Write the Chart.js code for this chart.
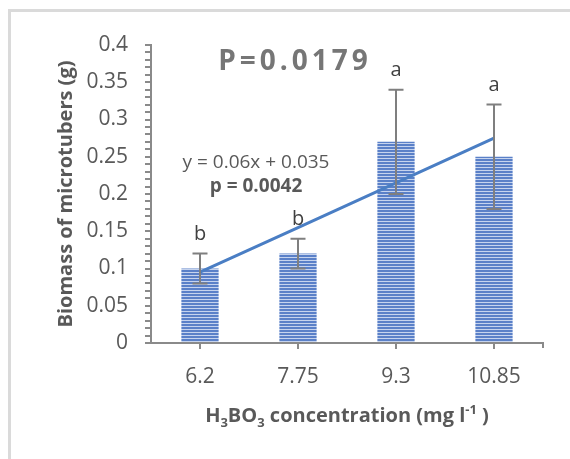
<!DOCTYPE html>
<html>
<head>
<meta charset="utf-8">
<script src="https://cdn.jsdelivr.net/npm/chart.js@4/dist/chart.umd.min.js"></script>
<style>
  html, body { margin: 0; padding: 0; background: #fff; overflow: hidden; }
  .frame { position: absolute; left: 8px; top: 9px; width: 620px; height: 520px;
           border-left: 3px solid #dadada; border-top: 3px solid #dadada; }
  .wrap { position: absolute; left: 0; top: 0; width: 570px; height: 459px; }
</style>
</head>
<body>
<div class="frame"></div>
<div class="wrap"><canvas id="chart" width="570" height="459"></canvas></div>
<script>
// Datos
const categories = ['6.2', '7.75', '9.3', '10.85'];
const biomass = [0.10, 0.12, 0.27, 0.25];
const errors = [0.02, 0.02, 0.07, 0.07];
const trend = [0.095, 0.155, 0.215, 0.275];
const letters = ['b', 'b', 'a', 'a'];

const FONT = "'Open Sans', 'Liberation Sans', sans-serif";
const GREY = '#8a8a8a';
const TEXT = '#595959';

// Relleno de barras con rayas horizontales
function stripePattern() {
    const c = document.createElement('canvas');
    c.width = 4;
    c.height = 3;
    const g = c.getContext('2d');
    g.fillStyle = '#5a80c8';
    g.fillRect(0, 0, 4, 2);
    g.fillStyle = '#c5d3ee';
    g.fillRect(0, 2, 4, 1);
    return g.createPattern(c, 'repeat');
}

// Barras de error y letras
const errorBars = {
    id: 'errorBars',
    afterDatasetsDraw(chart) {
        const { ctx, scales: { x, y } } = chart;
        ctx.save();
        ctx.strokeStyle = '#7f7f7f';
        ctx.lineWidth = 2;
        biomass.forEach((v, i) => {
            const px = x.getPixelForValue(i);
            const top = y.getPixelForValue(v + errors[i]);
            const bot = y.getPixelForValue(v - errors[i]);
            ctx.beginPath();
            ctx.moveTo(px, top); ctx.lineTo(px, bot);
            ctx.moveTo(px - 7.5, top); ctx.lineTo(px + 7.5, top);
            ctx.moveTo(px - 7.5, bot); ctx.lineTo(px + 7.5, bot);
            ctx.stroke();
            ctx.fillStyle = '#404040';
            ctx.font = `20px ${FONT}`;
            ctx.textAlign = 'center';
            ctx.textBaseline = 'alphabetic';
            ctx.fillText(letters[i], px, top - 14);
        });
        ctx.restore();
    }
};

// Textos: P, ecuación, títulos de ejes
const annotations = {
    id: 'annotations',
    afterDraw(chart) {
        const { ctx, chartArea, scales: { x, y } } = chart;
        ctx.save();

        // P=0.0179 con espaciado
        ctx.font = `bold 28px ${FONT}`;
        ctx.fillStyle = '#767676';
        ctx.textBaseline = 'middle';
        ctx.textAlign = 'left';
        const pText = 'P=0.0179';
        const gap = 4;
        let w = 0;
        for (const ch of pText) w += ctx.measureText(ch).width + gap;
        w -= gap;
        let cx = x.getPixelForValue(1) - 5 - w / 2;
        const py = y.getPixelForValue(0.377);
        for (const ch of pText) {
            ctx.fillText(ch, cx, py);
            cx += ctx.measureText(ch).width + gap;
        }

        // Ecuación de la tendencia
        const ex = (x.getPixelForValue(0) + x.getPixelForValue(1)) / 2 + 7;
        ctx.textAlign = 'center';
        ctx.fillStyle = TEXT;
        ctx.font = `19px ${FONT}`;
        ctx.fillText('y = 0.06x + 0.035', ex, y.getPixelForValue(0.242));
        ctx.font = `bold 19px ${FONT}`;
        ctx.fillText('p = 0.0042', ex, y.getPixelForValue(0.210));

        // Título eje Y
        ctx.save();
        ctx.translate(chartArea.left - 85, (chartArea.top + chartArea.bottom) / 2);
        ctx.rotate(-Math.PI / 2);
        ctx.font = `bold 20px ${FONT}`;
        ctx.fillText('Biomass of microtubers (g)', 0, 0);
        ctx.restore();

        // Título eje X con subíndices
        const parts = [
            ['H', 0], ['3', 1], ['BO', 0], ['3', 1],
            [' concentration (mg l', 0], ['-1', -1], [' )', 0]
        ];
        const fontFor = k => k === 0 ? `bold 20px ${FONT}` : `bold 13px ${FONT}`;
        let total = 0;
        parts.forEach(([t, k]) => { ctx.font = fontFor(k); total += ctx.measureText(t).width; });
        let tx = (chartArea.left + chartArea.right) / 2 - total / 2;
        const base = chartArea.bottom + 79;
        ctx.textAlign = 'left';
        ctx.textBaseline = 'alphabetic';
        parts.forEach(([t, k]) => {
            ctx.font = fontFor(k);
            ctx.fillText(t, tx, base + (k === 1 ? 5 : k === -1 ? -8 : 0));
            tx += ctx.measureText(t).width;
        });

        // Marca al final del eje X
        ctx.strokeStyle = GREY;
        ctx.lineWidth = 2;
        ctx.beginPath();
        ctx.moveTo(chartArea.right, chartArea.bottom);
        ctx.lineTo(chartArea.right, chartArea.bottom + 5);
        ctx.stroke();
        ctx.restore();
    }
};

new Chart(document.getElementById('chart'), {
    data: {
        labels: categories,
        datasets: [
            {
                type: 'line',
                data: trend,
                borderColor: '#4a7ec4',
                borderWidth: 3,
                pointRadius: 0,
                order: 1
            },
            {
                type: 'bar',
                data: biomass,
                backgroundColor: stripePattern(),
                borderWidth: 0,
                barPercentage: 0.38,
                categoryPercentage: 1,
                order: 2
            }
        ]
    },
    options: {
        responsive: false,
        animation: false,
        layout: { padding: { left: 0, top: 45, right: 27, bottom: 0 } },
        plugins: { legend: { display: false }, tooltip: { enabled: false } },
        scales: {
            x: {
                afterFit: s => { s.height = 116; },
                grid: { offset: false, drawOnChartArea: false, tickLength: 6, color: GREY, lineWidth: 2 },
                border: { color: GREY, width: 2 },
                ticks: { color: TEXT, font: { family: FONT, size: 21 }, padding: 15 }
            },
            y: {
                min: 0,
                max: 0.4,
                afterFit: s => { s.width = 151; },
                afterBuildTicks: s => {
                    // una marca cada 0.01, etiqueta cada 0.05
                    s.ticks = Array.from({ length: 41 }, (_, i) => ({ value: i / 100 }));
                },
                grid: { drawOnChartArea: false, tickLength: 6, color: GREY, lineWidth: 2 },
                border: { color: GREY, width: 2 },
                ticks: {
                    autoSkip: false,
                    padding: 17,
                    color: TEXT,
                    font: { family: FONT, size: 21 },
                    callback: v => Math.round(v * 100) % 5 === 0 ? String(+v.toFixed(2)) : ''
                }
            }
        }
    },
    plugins: [errorBars, annotations]
});
</script>
</body>
</html>
